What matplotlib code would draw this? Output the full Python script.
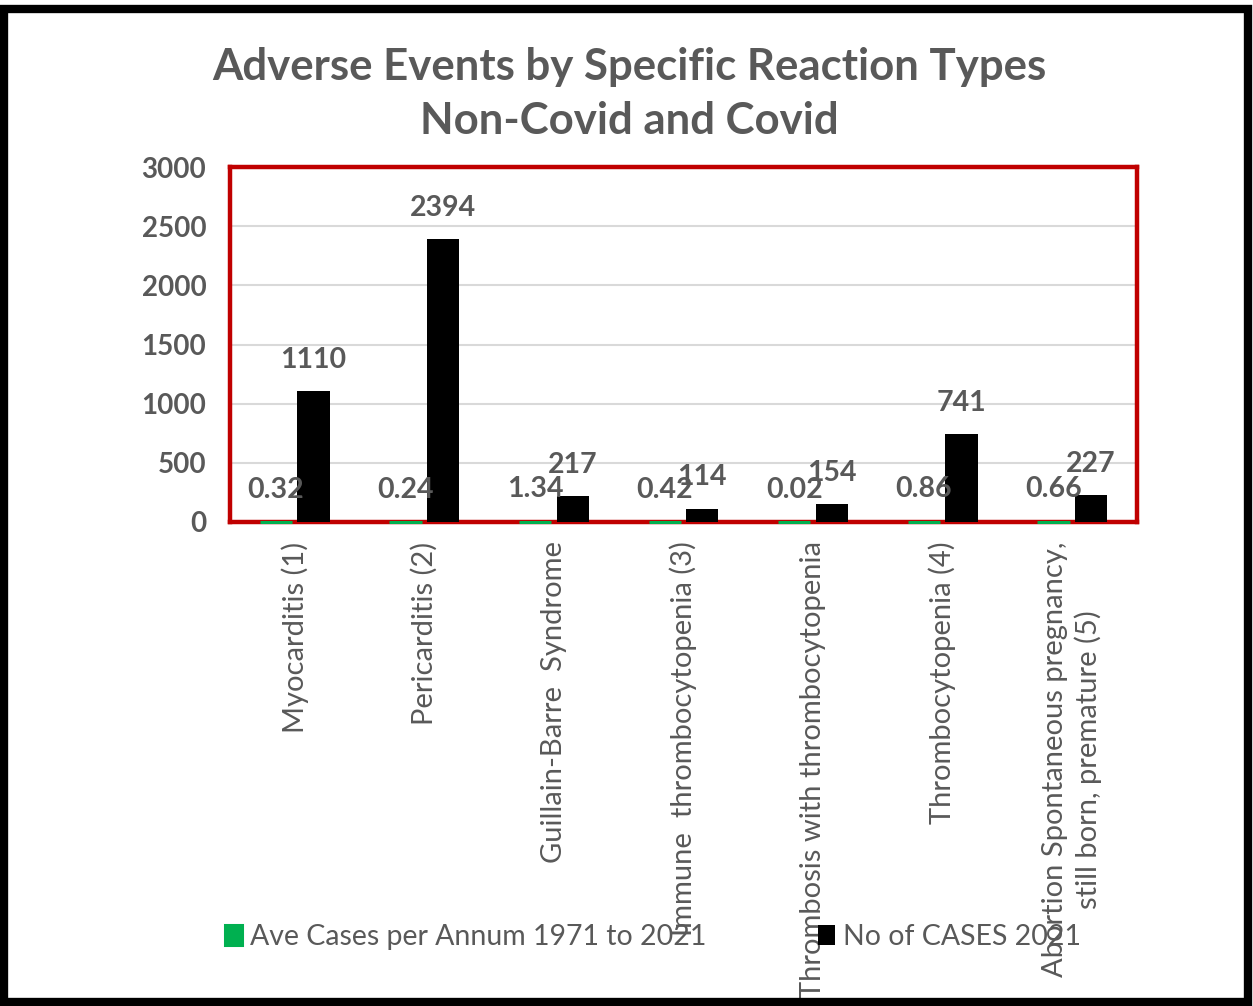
import numpy as np
import matplotlib.pyplot as plt
from matplotlib.patches import Rectangle

# Date
categorii = ['Myocarditis (1)', 'Pericarditis (2)', 'Guillain-Barre  Syndrome',
             'Immune  thrombocytopenia (3)', 'Thrombosis with thrombocytopenia',
             'Thrombocytopenia (4)',
             'Abortion Spontaneous pregnancy,\nstill born, premature (5)']
medie_anuala = [0.32, 0.24, 1.34, 0.42, 0.02, 0.86, 0.66]
cazuri_2021 = [1110, 2394, 217, 114, 154, 741, 227]

eticheta_medie = 'Ave Cases per Annum 1971 to 2021'
eticheta_2021 = 'No of CASES 2021'
titlu = 'Adverse Events by Specific Reaction Types\nNon-Covid and Covid'

VERDE = '#00b050'
GRI = '#595959'
ROSU = '#c00000'

plt.rcParams['font.family'] = ['Lato', 'DejaVu Sans']

fig = plt.figure(figsize=(12.53, 10.06), dpi=100)
ax = fig.add_axes([230 / 1253, 1 - 522 / 1006, 907 / 1253, 355 / 1006])

x = np.arange(len(categorii))
latime = 0.25
# barele verzi sunt aproape zero; un contur le face vizibile ca in Excel
b1 = ax.bar(x - latime / 2 - 0.02, medie_anuala, latime, color=VERDE, edgecolor=VERDE,
            linewidth=2.2, label=eticheta_medie, zorder=3, clip_on=False)
b2 = ax.bar(x + latime / 2 + 0.02, cazuri_2021, latime, color='black', label=eticheta_2021, zorder=3)

# etichete de valoare deasupra barelor
for bara, v in zip(b1, medie_anuala):
    ax.annotate(f'{v:g}', (bara.get_x() + bara.get_width() / 2, v), xytext=(0, 14),
                textcoords='offset points', ha='center', va='bottom',
                fontsize=20.5, fontweight='bold', color=GRI, zorder=4)
for bara, v in zip(b2, cazuri_2021):
    ax.annotate(f'{v}', (bara.get_x() + bara.get_width() / 2, v), xytext=(0, 13),
                textcoords='offset points', ha='center', va='bottom',
                fontsize=20.5, fontweight='bold', color=GRI, zorder=4)

ax.set_xlim(-0.5, len(categorii) - 0.5)
ax.set_ylim(0, 3000)
ax.set_yticks(np.arange(0, 3001, 500))
ax.yaxis.grid(True, color='#d9d9d9', linewidth=1.5, zorder=0)
ax.set_axisbelow(True)

ax.set_xticks(x)
ax.set_xticklabels(categorii, rotation=90, fontsize=21, color=GRI, linespacing=1.3)
ax.tick_params(axis='x', length=0, pad=14)
ax.tick_params(axis='y', length=0, pad=17, labelsize=20, labelcolor=GRI)
for t in ax.get_yticklabels():
    t.set_fontweight('bold')

for s in ax.spines.values():
    s.set_color(ROSU)
    s.set_linewidth(3.2)

fig.text(0.502, 1 - 94 / 1006, titlu, ha='center', va='center', fontsize=31.5,
         fontweight='bold', color=GRI, linespacing=1.45)

fig.legend(loc='center', bbox_to_anchor=(653 / 1253, 1 - 937 / 1006), ncol=2, frameon=False,
           fontsize=20.5, labelcolor=GRI, handlelength=0.6, handleheight=0.75,
           handletextpad=0.3, columnspacing=3.9)

# chenarul negru exterior
fig.patches.append(Rectangle((4 / 1253, 4 / 1006), 1 - 9 / 1253, 1 - 13 / 1006,
                             transform=fig.transFigure, fill=False, edgecolor='black',
                             linewidth=6, zorder=10))

fig.savefig('out.png', dpi=100)
